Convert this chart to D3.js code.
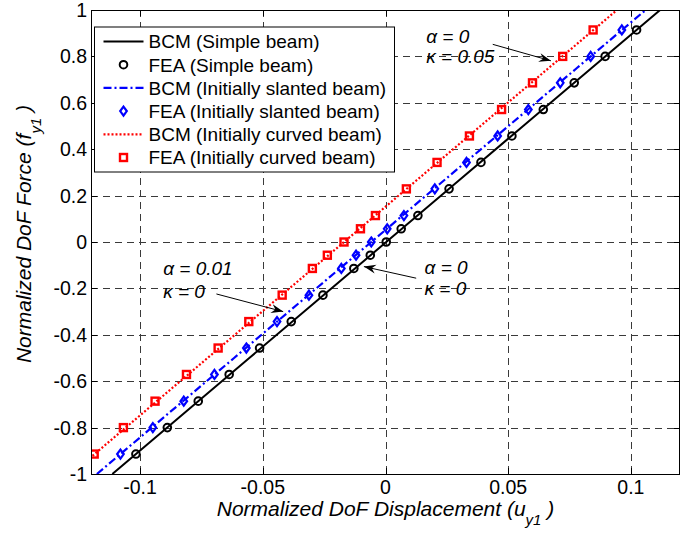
<!DOCTYPE html>
<html>
<head>
<meta charset="utf-8">
<script src="https://cdn.jsdelivr.net/npm/d3@7/dist/d3.min.js"></script>
<style>
  body { margin: 0; background: #fff; }
  text { font-family: "Liberation Sans", Arial, sans-serif; fill: #000; }
</style>
</head>
<body>
<div id="chart-area"></div>
<script>
// DATA
var feaForce = [-0.914, -0.8, -0.686, -0.571, -0.457, -0.343, -0.229, -0.114, -0.057, 0,
                0.057, 0.114, 0.229, 0.343, 0.457, 0.571, 0.686, 0.8, 0.914];
var feaSimple = [-0.1017, -0.0889, -0.0763, -0.0637, -0.0513, -0.0384, -0.0255, -0.0129, -0.0062, 0.0003,
                 0.0064, 0.0132, 0.0259, 0.0389, 0.0515, 0.0643, 0.0769, 0.0895, 0.1023];
var feaSlanted = [-0.1080, -0.0948, -0.0822, -0.0697, -0.0567, -0.0442, -0.0312, -0.0180, -0.0120, -0.0058,
                  0.0007, 0.0075, 0.0201, 0.0330, 0.0457, 0.0582, 0.0712, 0.0836, 0.0963];
var feaCurved = [-0.1187, -0.1068, -0.0939, -0.0811, -0.0682, -0.0557, -0.0421, -0.0298, -0.0237, -0.0169,
                 -0.0102, -0.0041, 0.0085, 0.0210, 0.0342, 0.0473, 0.0599, 0.0722, 0.0846];

var bcmForce = [-1, -0.75, -0.5, -0.25, 0, 0.25, 0.5, 0.75, 1];
var bcmSimple = [-0.1113, -0.0834, -0.0555, -0.0276, 0.0003, 0.0282, 0.0561, 0.0840, 0.1119];
var bcmSlanted = [-0.1176, -0.0897, -0.0617, -0.0338, -0.0058, 0.0221, 0.0501, 0.0780, 0.1060];
var bcmCurved = [-0.1281, -0.1003, -0.0725, -0.0447, -0.0169, 0.0109, 0.0387, 0.0665, 0.0943];

var xTicks = [-0.1, -0.05, 0, 0.05, 0.1];
var xTickLabels = ["-0.1", "-0.05", "0", "0.05", "0.1"];
var yTicks = [-1, -0.8, -0.6, -0.4, -0.2, 0, 0.2, 0.4, 0.6, 0.8, 1];
var yTickLabels = ["-1", "-0.8", "-0.6", "-0.4", "-0.2", "0", "0.2", "0.4", "0.6", "0.8", "1"];

var legendLabels = ["BCM (Simple beam)", "FEA (Simple beam)", "BCM (Initially slanted beam)",
                    "FEA (Initially slanted beam)", "BCM (Initially curved beam)", "FEA (Initially curved beam)"];

// annotation text + arrows, in data units
var notes = [
  { lines: ["\u03B1 = 0", "\u03BA = 0.05"], tx: 0.0166, ty: [0.859, 0.772], from: [0.0437, 0.852], to: [0.0674, 0.781] },
  { lines: ["\u03B1 = 0.01", "\u03BA = 0"], tx: -0.0906, ty: [-0.142, -0.243], from: [-0.0689, -0.224], to: [-0.0417, -0.300] },
  { lines: ["\u03B1 = 0", "\u03BA = 0"], tx: 0.0159, ty: [-0.138, -0.228], from: [0.0125, -0.156], to: [-0.0088, -0.106] }
];

var W = 696, H = 535;
var margin = { left: 91, right: 16, top: 10, bottom: 61 },
    width = W - margin.left - margin.right,
    height = H - margin.top - margin.bottom;

var tickFont = 19.5, labelFont = 21, legendFont = 19, noteFont = 19;

var x = d3.scaleLinear().domain([-0.12, 0.12]).range([0, width]);
var y = d3.scaleLinear().domain([-1, 1]).range([height, 0]);

var svg = d3.select("#chart-area").append("svg")
    .attr("width", W)
    .attr("height", H);

var defs = svg.append("defs");
defs.append("clipPath").attr("id", "plot-clip")
  .append("rect").attr("width", width).attr("height", height);
defs.append("marker")
    .attr("id", "arrow")
    .attr("viewBox", "-12 -6 14 12")
    .attr("refX", 0).attr("refY", 0)
    .attr("markerWidth", 14).attr("markerHeight", 12)
    .attr("markerUnits", "userSpaceOnUse")
    .attr("orient", "auto")
  .append("path")
    .attr("d", "M0,0 L-12,-4.5 L-8,0 L-12,4.5 Z")
    .attr("fill", "#000");

var g = svg.append("g")
    .attr("transform", "translate(" + margin.left + "," + margin.top + ")");

// Grid
var grid = g.append("g").attr("class", "grid")
    .attr("stroke", "#3a3a3a").attr("stroke-width", 1)
    .attr("stroke-dasharray", "7,5").attr("shape-rendering", "crispEdges");
grid.selectAll(".gx").data(xTicks).enter().append("line")
    .attr("x1", d => Math.round(x(d)) + 0.5).attr("x2", d => Math.round(x(d)) + 0.5)
    .attr("y1", 0).attr("y2", height);
grid.selectAll(".gy").data(yTicks.slice(1, -1)).enter().append("line")
    .attr("y1", d => Math.round(y(d)) + 0.5).attr("y2", d => Math.round(y(d)) + 0.5)
    .attr("x1", 0).attr("x2", width);

// Lines
var plot = g.append("g").attr("clip-path", "url(#plot-clip)");

var line = d3.line()
    .x(d => x(d[0]))
    .y(d => y(d[1]));

function pairs(xs, ys) { return xs.map((v, i) => [v, ys[i]]); }

plot.append("path")
    .datum(pairs(bcmSimple, bcmForce))
    .attr("fill", "none").attr("stroke", "#000").attr("stroke-width", 2)
    .attr("d", line);
plot.append("path")
    .datum(pairs(bcmSlanted, bcmForce))
    .attr("fill", "none").attr("stroke", "#0000ff").attr("stroke-width", 2.2)
    .attr("stroke-dasharray", "8,3,2,3")
    .attr("d", line);
plot.append("path")
    .datum(pairs(bcmCurved, bcmForce))
    .attr("fill", "none").attr("stroke", "#ff0000").attr("stroke-width", 2.2)
    .attr("stroke-dasharray", "2,2")
    .attr("d", line);

// Markers
function circleMark(sel) {
  sel.attr("r", 3.8).attr("fill", "none").attr("stroke", "#000").attr("stroke-width", 2);
}
function diamondPath(cx, cy) {
  return "M" + cx + "," + (cy - 4.5) + "L" + (cx + 3.3) + "," + cy + "L" + cx + "," + (cy + 4.5) + "L" + (cx - 3.3) + "," + cy + "Z";
}

plot.selectAll(".fea-simple").data(pairs(feaSimple, feaForce)).enter().append("circle")
    .attr("cx", d => x(d[0])).attr("cy", d => y(d[1]))
    .call(circleMark);
plot.selectAll(".fea-slanted").data(pairs(feaSlanted, feaForce)).enter().append("path")
    .attr("d", d => diamondPath(x(d[0]), y(d[1])))
    .attr("fill", "none").attr("stroke", "#0000ff").attr("stroke-width", 2.2);
plot.selectAll(".fea-curved").data(pairs(feaCurved, feaForce)).enter().append("rect")
    .attr("x", d => x(d[0]) - 3.5).attr("y", d => y(d[1]) - 3.5)
    .attr("width", 7).attr("height", 7)
    .attr("fill", "none").attr("stroke", "#ff0000").attr("stroke-width", 2.4);

// Frame + inner ticks on all sides
var tl = 6;
var axes = g.append("g").attr("stroke", "#000").attr("stroke-width", 1).attr("shape-rendering", "crispEdges");
axes.append("rect").attr("x", 0.5).attr("y", 0.5).attr("width", width - 1).attr("height", height)
    .attr("fill", "none");
xTicks.forEach(function(t) {
  var px = Math.round(x(t)) + 0.5;
  axes.append("line").attr("x1", px).attr("x2", px).attr("y1", height).attr("y2", height - tl);
  axes.append("line").attr("x1", px).attr("x2", px).attr("y1", 0).attr("y2", tl);
});
yTicks.forEach(function(t) {
  var py = Math.round(y(t)) + 0.5;
  axes.append("line").attr("x1", 0).attr("x2", tl).attr("y1", py).attr("y2", py);
  axes.append("line").attr("x1", width).attr("x2", width - tl).attr("y1", py).attr("y2", py);
});

// Tick labels
g.selectAll(".xlab").data(xTicks).enter().append("text")
    .attr("x", d => x(d)).attr("y", height + 20)
    .attr("text-anchor", "middle").style("font-size", tickFont + "px")
    .text((d, i) => xTickLabels[i]);
g.selectAll(".ylab").data(yTicks).enter().append("text")
    .attr("x", -4).attr("y", d => y(d)).attr("dy", "0.36em")
    .attr("text-anchor", "end").style("font-size", tickFont + "px")
    .text((d, i) => yTickLabels[i]);

// Axis titles
var xt = svg.append("text")
    .attr("x", margin.left + x(0)).attr("y", 516)
    .attr("text-anchor", "middle")
    .style("font-size", labelFont + "px").style("font-style", "italic");
xt.append("tspan").text("Normalized DoF Displacement (u");
xt.append("tspan").attr("dy", 9).style("font-size", "15px").text("y1");
xt.append("tspan").attr("dy", -9).text("  )");

var yt = svg.append("text")
    .attr("transform", "translate(31," + 234 + ") rotate(-90)")
    .attr("text-anchor", "middle")
    .style("font-size", labelFont + "px").style("font-style", "italic");
yt.append("tspan").text("Normalized DoF Force (f");
yt.append("tspan").attr("dy", 10).style("font-size", "15px").text("y1");
yt.append("tspan").attr("dy", -10).text("  )");

// Legend
var leg = g.append("g").attr("transform", "translate(3.5,17)");
var legW = 300, legH = 145, rowH = 23.2, row0 = 14.5;
leg.append("rect").attr("width", legW).attr("height", legH)
    .attr("fill", "#fff").attr("stroke", "#000").attr("stroke-width", 1);

var legRows = leg.selectAll(".row").data(legendLabels).enter().append("g")
    .attr("transform", (d, i) => "translate(0," + (row0 + i * rowH) + ")");
legRows.append("text")
    .attr("x", 54).attr("dy", "0.36em")
    .style("font-size", legendFont + "px")
    .text(d => d);

function legLine(i, color, dash, w) {
  leg.append("line")
      .attr("x1", 9).attr("x2", 49)
      .attr("y1", row0 + i * rowH).attr("y2", row0 + i * rowH)
      .attr("stroke", color).attr("stroke-width", w)
      .attr("stroke-dasharray", dash);
}
legLine(0, "#000", null, 2);
legLine(2, "#0000ff", "8,3,2,3", 2.2);
legLine(4, "#ff0000", "2,2", 2.2);
leg.append("circle").attr("cx", 29).attr("cy", row0 + rowH).call(circleMark);
leg.append("path").attr("d", diamondPath(29, row0 + 3 * rowH))
    .attr("fill", "none").attr("stroke", "#0000ff").attr("stroke-width", 2.2);
leg.append("rect").attr("x", 25.5).attr("y", row0 + 5 * rowH - 3.5)
    .attr("width", 7).attr("height", 7)
    .attr("fill", "none").attr("stroke", "#ff0000").attr("stroke-width", 2.4);

// Annotations
notes.forEach(function(n) {
  n.lines.forEach(function(s, i) {
    g.append("text")
        .attr("x", x(n.tx)).attr("y", y(n.ty[i]))
        .style("font-size", noteFont + "px").style("font-style", "italic")
        .text(s);
  });
  g.append("line")
      .attr("x1", x(n.from[0])).attr("y1", y(n.from[1]))
      .attr("x2", x(n.to[0])).attr("y2", y(n.to[1]))
      .attr("stroke", "#000").attr("stroke-width", 1)
      .attr("marker-end", "url(#arrow)");
});
</script>
</body>
</html>
